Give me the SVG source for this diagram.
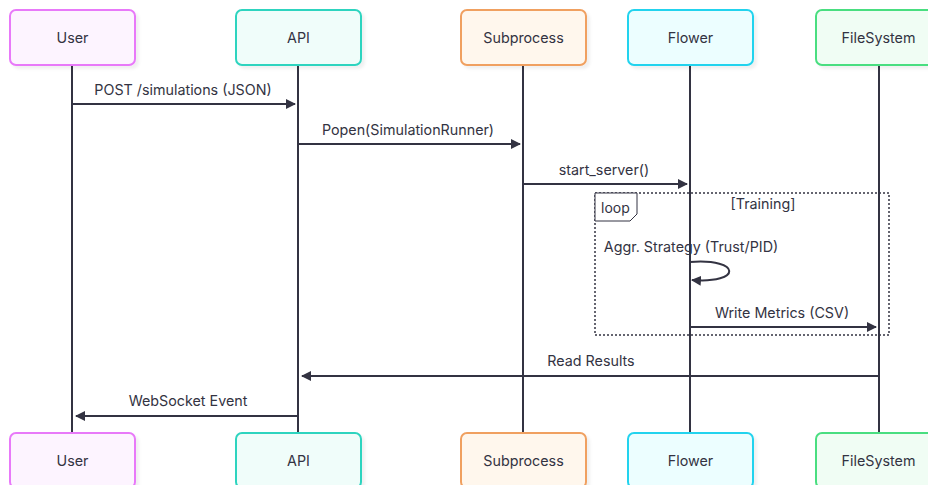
<svg xmlns="http://www.w3.org/2000/svg" width="928" height="485" viewBox="0 0 928 485">
<style>
text{font-family:Inter,"Noto Sans","DejaVu Sans",sans-serif;fill:#333342}
.actor text{font-size:14.3px;text-anchor:middle;dominant-baseline:central}
.msg{font-size:14.3px;text-anchor:middle}
.life{stroke:#333342;stroke-width:2}
.arrow{stroke:#333342;stroke-width:2;fill:none;marker-end:url(#ah)}
.box{stroke-width:2}
</style>
<defs>
<marker id="ah" viewBox="0 0 10 10" refX="9" refY="5" markerWidth="10" markerHeight="10" markerUnits="userSpaceOnUse" orient="auto">
<path d="M0,0 L10,5 L0,10 z" fill="#333342"/>
</marker>
<filter id="sh" x="-10%" y="-10%" width="130%" height="130%"><feDropShadow dx="3" dy="3" stdDeviation="1.5" flood-color="#000" flood-opacity="0.06"/></filter>
</defs>
<g id="lifelines">
<line class="life" x1="72" y1="65" x2="72" y2="433"/>
<line class="life" x1="298" y1="65" x2="298" y2="433"/>
<line class="life" x1="523" y1="65" x2="523" y2="433"/>
<line class="life" x1="690" y1="65" x2="690" y2="433"/>
<line class="life" x1="879" y1="65" x2="879" y2="433"/>
</g>
<g id="loop">
<rect x="595" y="193" width="294" height="142" fill="none" stroke="#333342" stroke-width="1.5" stroke-dasharray="2,2"/>
<path d="M595,193 H637 V214 L630,221 H595 Z" fill="#fff" stroke="#333342" stroke-width="1"/>
<text x="601" y="213" style="font-size:14px">loop</text>
<text x="763" y="209" class="msg">[Training]</text>
</g>
<g id="connectors">
<line class="arrow" x1="72" y1="104" x2="295" y2="104"/>
<text class="msg" x="183" y="95">POST /simulations (JSON)</text>
<line class="arrow" x1="298" y1="144" x2="520" y2="144"/>
<text class="msg" x="408" y="135">Popen(SimulationRunner)</text>
<line class="arrow" x1="523" y1="184" x2="687" y2="184"/>
<text class="msg" x="604" y="175">start_server()</text>
<path class="arrow" d="M690,262 C742,258 742,284 692,280"/>
<text class="msg" x="691" y="252">Aggr. Strategy (Trust/PID)</text>
<line class="arrow" x1="690" y1="327" x2="876" y2="327"/>
<text class="msg" x="782" y="318">Write Metrics (CSV)</text>
<line class="arrow" x1="879" y1="376" x2="302" y2="376"/>
<text class="msg" x="591" y="366">Read Results</text>
<line class="arrow" x1="298" y1="416" x2="76" y2="416"/>
<text class="msg" x="188" y="406">WebSocket Event</text>
</g>
<g id="user-top" class="actor"><rect class="box" x="10" y="10" width="125" height="55" rx="6" fill="#fdf4ff" stroke="#e879f9" filter="url(#sh)"/><text x="72.5" y="37.5">User</text></g>
<g id="api-top" class="actor"><rect class="box" x="236" y="10" width="125" height="55" rx="6" fill="#f0fdfa" stroke="#2dd4bf" filter="url(#sh)"/><text x="298.5" y="37.5">API</text></g>
<g id="subprocess-top" class="actor"><rect class="box" x="461" y="10" width="125" height="55" rx="6" fill="#fff7ed" stroke="#f0a060" filter="url(#sh)"/><text x="523.5" y="37.5">Subprocess</text></g>
<g id="flower-top" class="actor"><rect class="box" x="628" y="10" width="125" height="55" rx="6" fill="#ecfeff" stroke="#22d3ee" filter="url(#sh)"/><text x="690.5" y="37.5">Flower</text></g>
<g id="filesystem-top" class="actor"><rect class="box" x="816" y="10" width="125" height="55" rx="6" fill="#f0fdf4" stroke="#4ade80" filter="url(#sh)"/><text x="878.5" y="37.5">FileSystem</text></g>
<g id="user-bottom" class="actor"><rect class="box" x="10" y="433" width="125" height="55" rx="6" fill="#fdf4ff" stroke="#e879f9" filter="url(#sh)"/><text x="72.5" y="460.5">User</text></g>
<g id="api-bottom" class="actor"><rect class="box" x="236" y="433" width="125" height="55" rx="6" fill="#f0fdfa" stroke="#2dd4bf" filter="url(#sh)"/><text x="298.5" y="460.5">API</text></g>
<g id="subprocess-bottom" class="actor"><rect class="box" x="461" y="433" width="125" height="55" rx="6" fill="#fff7ed" stroke="#f0a060" filter="url(#sh)"/><text x="523.5" y="460.5">Subprocess</text></g>
<g id="flower-bottom" class="actor"><rect class="box" x="628" y="433" width="125" height="55" rx="6" fill="#ecfeff" stroke="#22d3ee" filter="url(#sh)"/><text x="690.5" y="460.5">Flower</text></g>
<g id="filesystem-bottom" class="actor"><rect class="box" x="816" y="433" width="125" height="55" rx="6" fill="#f0fdf4" stroke="#4ade80" filter="url(#sh)"/><text x="878.5" y="460.5">FileSystem</text></g>
</svg>
